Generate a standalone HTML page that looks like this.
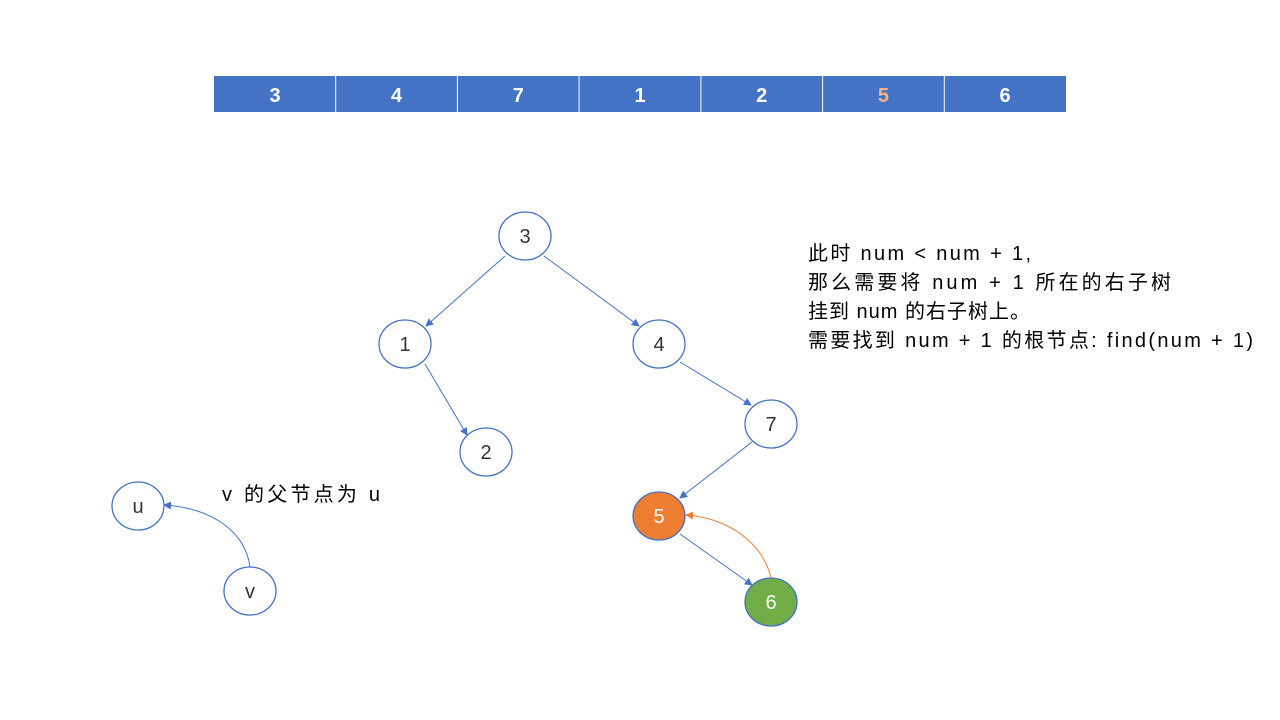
<!DOCTYPE html>
<html><head><meta charset="utf-8"><style>
body{margin:0;width:1280px;height:720px;background:#fff;overflow:hidden;font-family:"Liberation Sans","Noto Sans CJK SC",sans-serif}
</style></head><body>
<svg width="1280" height="720" xmlns="http://www.w3.org/2000/svg" style="position:absolute;left:0;top:0">
<defs>
<marker id="a" markerWidth="8" markerHeight="8" refX="7" refY="4" orient="auto" markerUnits="userSpaceOnUse"><path d="M0,0 L8,4 L0,8 z" fill="#4472c4"/></marker>
<marker id="o" markerWidth="8" markerHeight="8" refX="7" refY="4" orient="auto" markerUnits="userSpaceOnUse"><path d="M0,0 L8,4 L0,8 z" fill="#ed7d31"/></marker>
</defs>
<rect x="214" y="76" width="852" height="36" fill="#4472c4"/>
<g stroke="#fff" stroke-width="1">
<line x1="335.7" y1="76" x2="335.7" y2="112"/><line x1="457.4" y1="76" x2="457.4" y2="112"/><line x1="579.1" y1="76" x2="579.1" y2="112"/><line x1="700.9" y1="76" x2="700.9" y2="112"/><line x1="822.6" y1="76" x2="822.6" y2="112"/><line x1="944.3" y1="76" x2="944.3" y2="112"/>
</g>
<g font-size="20" font-weight="bold" fill="#fff" text-anchor="middle" font-family="Liberation Sans, sans-serif">
<text x="275" y="102">3</text><text x="396.6" y="102">4</text><text x="518.3" y="102">7</text><text x="640" y="102">1</text><text x="761.7" y="102">2</text><text x="883.4" y="102" fill="#f4b183">5</text><text x="1005" y="102">6</text>
</g>
<g stroke="#4472c4" stroke-width="1" fill="none">
<line x1="505" y1="256" x2="426" y2="326" marker-end="url(#a)"/>
<line x1="544" y1="256" x2="639" y2="326" marker-end="url(#a)"/>
<line x1="425" y1="364" x2="467" y2="435" marker-end="url(#a)"/>
<line x1="680" y1="362" x2="751" y2="405" marker-end="url(#a)"/>
<line x1="752" y1="442" x2="680" y2="498" marker-end="url(#a)"/>
<line x1="680" y1="534" x2="752" y2="585" marker-end="url(#a)"/>
<path d="M250,567 C245,530 210,508 164,505" marker-end="url(#a)"/>
</g>
<path d="M771,578 C764,545 730,518 686,515" stroke="#ed7d31" fill="none" marker-end="url(#o)"/>
<g stroke="#4472c4" stroke-width="1.3" fill="#fff">
<ellipse cx="525" cy="236" rx="26" ry="24"/>
<ellipse cx="405" cy="344" rx="26" ry="24"/>
<ellipse cx="659" cy="344" rx="26" ry="24"/>
<ellipse cx="486" cy="452" rx="26" ry="24"/>
<ellipse cx="771" cy="424" rx="26" ry="24"/>
<ellipse cx="659" cy="516" rx="26" ry="24" fill="#ed7d31"/>
<ellipse cx="771" cy="602" rx="26" ry="24" fill="#70ad47"/>
<ellipse cx="138" cy="506" rx="26" ry="24"/>
<ellipse cx="250" cy="591" rx="26" ry="24"/>
</g>
<g font-size="20" fill="#333" text-anchor="middle" font-family="Liberation Sans, sans-serif">
<text x="525" y="243">3</text><text x="405" y="351">1</text><text x="659" y="351">4</text><text x="486" y="459">2</text><text x="771" y="431">7</text>
<text x="659" y="523" fill="#fff">5</text><text x="771" y="609" fill="#fff">6</text>
<text x="138" y="513">u</text><text x="250" y="598">v</text>
</g>
<g font-size="20" fill="#000" font-family="Liberation Sans, Noto Sans CJK SC, sans-serif" lengthAdjust="spacing">
<text x="808" y="260" textLength="223">此时 num &lt; num + 1,</text>
<text x="808" y="289" textLength="363">那么需要将 num + 1 所在的右子树</text>
<text x="808" y="318" textLength="222">挂到 num 的右子树上。</text>
<text x="808" y="347" textLength="445">需要找到 num + 1 的根节点: find(num + 1)</text>
<text x="222" y="501" textLength="158">v 的父节点为 u</text>
</g>
</svg>
</body></html>
